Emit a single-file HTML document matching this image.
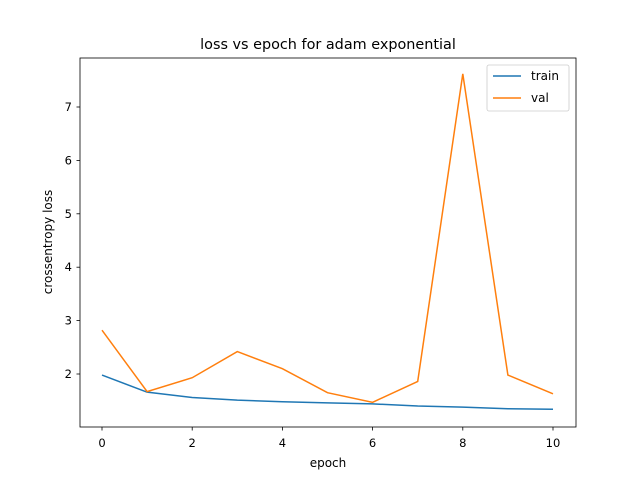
<!DOCTYPE html>
<html><head><meta charset="utf-8"><style>
body{margin:0;background:#fff;}
svg text{font-family:"DejaVu Sans","Liberation Sans",sans-serif;fill:#000;}
</style></head><body>
<svg id="chart" width="640" height="480">
<rect width="640" height="480" fill="#fff"/>
<text x="328" y="49" font-size="14.4" text-anchor="middle">loss vs epoch for adam exponential</text>
<g id="ticks"></g>
<g id="lines"></g>
<rect x="80" y="58" width="496" height="369" fill="none" stroke="#000" stroke-width="0.8"/>
<text x="328" y="467" font-size="12" text-anchor="middle">epoch</text>
<text x="52" y="242" font-size="12" text-anchor="middle" transform="rotate(-90 52 242)">crossentropy loss</text>
<g>
<rect x="487" y="65" width="82" height="46" rx="2" fill="#fff" stroke="#ccc" stroke-width="0.8"/>
<line x1="493" y1="76" x2="521" y2="76" stroke="#1f77b4" stroke-width="1.5"/>
<text x="531" y="80" font-size="12">train</text>
<line x1="493" y1="98" x2="521" y2="98" stroke="#ff7f0e" stroke-width="1.5"/>
<text x="531" y="102" font-size="12">val</text>
</g>
</svg>
<script>
const epochs=[0,1,2,3,4,5,6,7,8,9,10];
const trainLoss=[1.98,1.66,1.56,1.51,1.48,1.46,1.44,1.40,1.38,1.35,1.34];
const valLoss=[2.82,1.67,1.93,2.42,2.10,1.65,1.47,1.86,7.62,1.98,1.63];
const xTicks=[0,2,4,6,8,10];
const yTicks=[2,3,4,5,6,7];
const NS="http://www.w3.org/2000/svg";
function xs(v){return 102+v*45.1;}
function ys(v){return 374-(v-2)*53.4;}
const tg=document.getElementById('ticks');
xTicks.forEach(t=>{
 const l=document.createElementNS(NS,'line');
 l.setAttribute('x1',xs(t));l.setAttribute('x2',xs(t));l.setAttribute('y1',427);l.setAttribute('y2',430.5);l.setAttribute('stroke','#000');l.setAttribute('stroke-width','0.8');
 
 
 tg.appendChild(l);
 const tx=document.createElementNS(NS,'text');
 tx.setAttribute('x',xs(t));tx.setAttribute('y',447);tx.setAttribute('font-size','11.5');tx.setAttribute('text-anchor','middle');tx.textContent=t;
 
 
 tg.appendChild(tx);
});
yTicks.forEach(t=>{
 const l=document.createElementNS(NS,'line');
 l.setAttribute('x1',76.5);l.setAttribute('x2',80);l.setAttribute('y1',ys(t));l.setAttribute('y2',ys(t));l.setAttribute('stroke','#000');l.setAttribute('stroke-width','0.8');
 
 
 tg.appendChild(l);
 const tx=document.createElementNS(NS,'text');
 tx.setAttribute('x',72);tx.setAttribute('y',ys(t)+4);tx.setAttribute('font-size','11.5');tx.setAttribute('text-anchor','end');tx.textContent=t;
 
 
 tg.appendChild(tx);
});
const lg=document.getElementById('lines');
[[trainLoss,'#1f77b4','train-line'],[valLoss,'#ff7f0e','val-line']].forEach(([d,c,n])=>{
 const p=document.createElementNS(NS,'polyline');
 p.setAttribute('points',epochs.map((e,i)=>xs(e)+','+ys(d[i])).join(' '));
 p.setAttribute('fill','none');p.setAttribute('stroke',c);p.setAttribute('stroke-width','1.5');
 
 
 lg.appendChild(p);
});
</script>
</body></html>
